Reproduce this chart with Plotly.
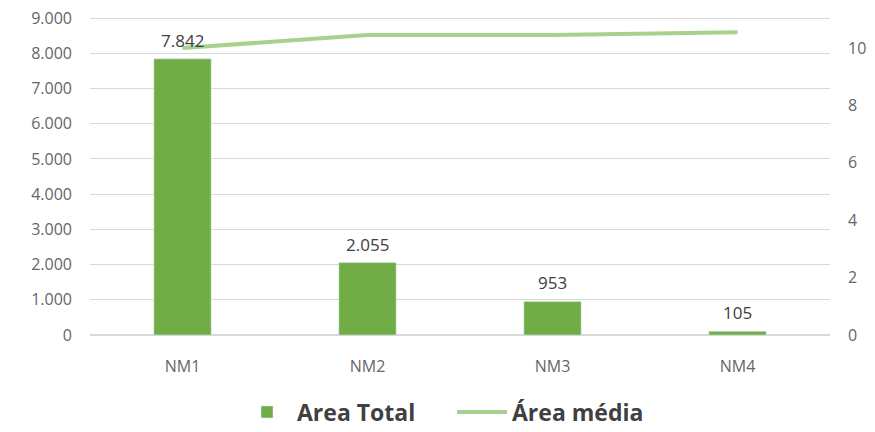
import plotly.graph_objects as go

categories = ["NM1", "NM2", "NM3", "NM4"]
area_total = [7842, 2055, 953, 105]
area_media = [10.0, 10.45, 10.45, 10.55]
left_ticks = [0, 1000, 2000, 3000, 4000, 5000, 6000, 7000, 8000, 9000]
right_ticks = [0, 2, 4, 6, 8, 10]

FONT = "'Open Sans', Lato, sans-serif"
TICKC = "#666666"

fig = go.Figure()
fig.add_trace(go.Bar(
    x=categories, y=area_total, name="Area Total",
    marker_color="#70ad47", width=0.31,
))
fig.add_trace(go.Scatter(
    x=categories, y=area_media, name="Área média", mode="lines",
    line=dict(color="#a9d18e", width=4), yaxis="y2",
))

for c, v in zip(categories, area_total):
    fig.add_annotation(x=c, y=v, xref="x", yref="y", yanchor="bottom",
                       yshift=5, showarrow=False,
                       text=f"{v:,}".replace(",", "."),
                       font=dict(size=17, color="#404040", family=FONT))

fig.update_layout(
    width=875, height=432,
    margin=dict(l=90, r=45, t=14, b=97, autoexpand=False),
    paper_bgcolor="white", plot_bgcolor="white",
    separators=",.",
    showlegend=True,
    legend=dict(orientation="h", x=452 / 875, xanchor="center", xref="container",
                y=1 - 412 / 432, yanchor="middle", yref="container",
                font=dict(size=23, color="#404040", family=FONT, weight="bold"),
                traceorder="normal", itemwidth=50, entrywidth=150),
    xaxis=dict(showgrid=False, showline=False, ticks="", automargin=False,
               ticklabelstandoff=20,
               tickfont=dict(size=16, color=TICKC, family=FONT)),
    yaxis=dict(range=[0, 9114], tickvals=left_ticks, tickformat=",d", automargin=False,
               gridcolor="#d9d9d9", gridwidth=1, zeroline=True, zerolinecolor="#d9d9d9",
               showline=False, ticks="", ticklabelstandoff=17,
               tickfont=dict(size=16, color=TICKC, family=FONT)),
    yaxis2=dict(range=[0, 11.185], tickvals=right_ticks, overlaying="y", side="right",
                automargin=False,
                showgrid=False, zeroline=False, showline=False, ticks="",
                ticklabelstandoff=17,
                tickfont=dict(size=16, color=TICKC, family=FONT)),
)

fig.write_html("out.html", config={"displayModeBar": False},
               post_script="document.body.style.margin='0';document.body.style.overflow='hidden';")
